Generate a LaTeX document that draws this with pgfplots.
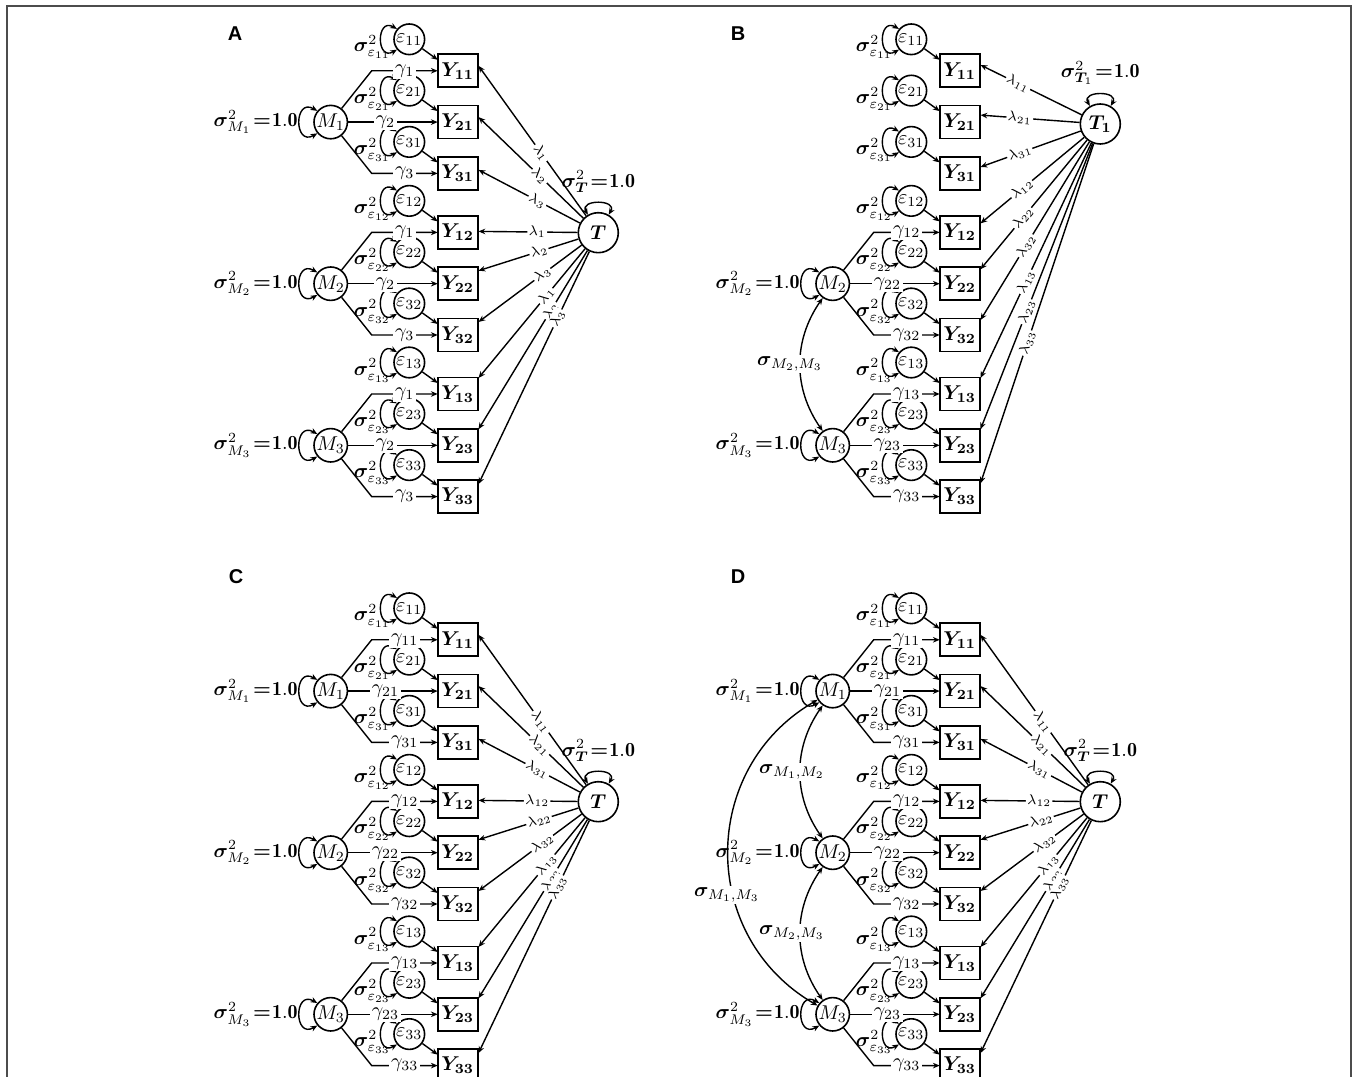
\documentclass[border=0pt]{standalone}
\usepackage{fontspec}
\usepackage{amsmath}
\usepackage{bm}
\usepackage{pgfplots}
\pgfplotsset{compat=1.18}
\usetikzlibrary{arrows.meta}
\newfontfamily\hv{Liberation Sans}

\tikzset{
 yb/.style={draw, line width=0.8pt, minimum width=20pt, minimum height=16.5pt, inner sep=0pt, fill=white},
 ec/.style={draw, circle, line width=0.8pt, minimum size=15.3pt, inner sep=0pt},
 mc/.style={draw, circle, line width=0.8pt, minimum size=16.7pt, inner sep=0pt},
 tc/.style={draw, circle, line width=0.8pt, minimum size=20pt, inner sep=0pt},
 ar/.style={-{Stealth[length=3.4pt,width=2.8pt]}, line width=0.7pt},
 dar/.style={arrows={Stealth[length=3.4pt,width=2.8pt]-Stealth[length=3.4pt,width=2.8pt]}, line width=0.7pt},
 lab/.style={fill=white, inner sep=0.6pt, font=\scriptsize},
 glab/.style={fill=white, inner sep=0.8pt},
}
\newcommand\Eq{\mkern1.5mu{\bm{=}}\mkern1mu\mathbf{1.0}}

\newcommand\Yrow[4]{%
 \node[yb] (Y#4) at ({#1+457.7},{#2+#3}) {$\bm{Y}_{\bm{#4}}$};
 \node[ec] (E#4) at ({#1+409.3},{#2+#3-31.5}) {$\varepsilon_{#4}$};
 \draw[dar] (E#4.140) to[out=150,in=210,looseness=3.0] (E#4.220);
 \node[inner sep=0pt] at ({#1+372.3},{#2+#3-23.5}) {$\bm{\sigma}^2_{\varepsilon_{#4}}$};
 \draw[ar] (E#4) -- ({#1+437.7},{#2+#3-11});
}
\newcommand\Mgroup[7]{%
 \node[mc] (M#4) at ({#1+330.7},{#2+#3+51.3}) {$M_{#4}$};
 \node[anchor=east, inner sep=0pt] at ({#1+298},{#2+#3+51.3}) {$\bm{\sigma}^2_{M_{#4}}\Eq$};
 \draw[dar] (M#4.140) to[out=150,in=210,looseness=3.1] (M#4.220);
 \draw[ar] (M#4) -- ({#1+371.7},{#2+#3}) -- ({#1+437.7},{#2+#3});
 \draw[ar] (M#4) -- ({#1+437.7},{#2+#3+51.3});
 \draw[ar] (M#4) -- ({#1+371.7},{#2+#3+102.6}) -- ({#1+437.7},{#2+#3+102.6});
 \node[glab] at ({#1+404.7},{#2+#3}) {$#5$};
 \node[glab] at ({#1+385.5},{#2+#3+51.3}) {$#6$};
 \node[glab] at ({#1+404.7},{#2+#3+102.6}) {$#7$};
}
\newcommand\Tnode[5]{%
 \node[tc] (T) at ({#1+598.3},{#2+#3}) {$#4$};
 \draw[dar] (T.60) to[out=60,in=120,looseness=2.2] (T.120);
 \node at ({#1+598.3},{#2+#3-51}) {$#5\Eq$};
}
\newcommand\Lam[4]{%
 \draw[ar] (T) -- ([yshift=#2pt]Y#1.east) node[lab,sloped,pos=#3] {$#4$};
}
\newcommand\AllRows[2]{%
 \Yrow{#1}{#2}{70.8}{11}\Yrow{#1}{#2}{122.1}{21}\Yrow{#1}{#2}{173.4}{31}
 \Yrow{#1}{#2}{232.4}{12}\Yrow{#1}{#2}{283.7}{22}\Yrow{#1}{#2}{335.0}{32}
 \Yrow{#1}{#2}{394.0}{13}\Yrow{#1}{#2}{445.3}{23}\Yrow{#1}{#2}{496.6}{33}
}

\begin{document}
\begin{tikzpicture}
\begin{axis}[x=0.5pt, y=0.5pt, y dir=reverse,
  xmin=0, xmax=1356, ymin=0, ymax=1077,
  hide axis, clip=false]
\addplot[draw=black!70, line width=0.8pt, mark=none] coordinates {(7,1090) (7,6) (1351,6) (1351,1090)};
\end{axis}

\begin{scope}[shift={(0pt,538.5pt)}, x=0.5pt, y=-0.5pt]
\node at (235,34) {\hv\bfseries\fontsize{10}{11}\selectfont A};
\node at (738,34) {\hv\bfseries\fontsize{10}{11}\selectfont B};
\node at (236,577) {\hv\bfseries\fontsize{10}{11}\selectfont C};
\node at (738,577) {\hv\bfseries\fontsize{10}{11}\selectfont D};

% ---------------- Panel A
\AllRows{0}{0}
\Mgroup{0}{0}{70.8}{1}{\gamma_1}{\gamma_2}{\gamma_3}
\Mgroup{0}{0}{232.4}{2}{\gamma_1}{\gamma_2}{\gamma_3}
\Mgroup{0}{0}{394.0}{3}{\gamma_1}{\gamma_2}{\gamma_3}
\Tnode{0}{0}{232.7}{\bm{T}}{\bm{\sigma}^2_{\bm{T}}}
\Lam{11}{2.5}{0.42}{\lambda_1}
\Lam{21}{2.5}{0.417}{\lambda_2}
\Lam{31}{1.75}{0.42}{\lambda_3}
\Lam{12}{0.5}{0.407}{\lambda_1}
\Lam{22}{6.5}{0.395}{\lambda_2}
\Lam{32}{6.5}{0.381}{\lambda_3}
\Lam{13}{8}{0.365}{\lambda_1}
\Lam{23}{8}{0.337}{\lambda_2}
\Lam{33}{6.25}{0.288}{\lambda_3}

% ---------------- Panel B
\AllRows{502}{0}
\Mgroup{502}{0}{232.4}{2}{\gamma_{12}}{\gamma_{22}}{\gamma_{32}}
\Mgroup{502}{0}{394.0}{3}{\gamma_{13}}{\gamma_{23}}{\gamma_{33}}
\Tnode{502}{0}{124}{\bm{T}_{\bm{1}}}{\bm{\sigma}^2_{\bm{T}_{1}}}
\Lam{11}{2.9}{0.628}{\lambda_{11}}
\Lam{21}{3.5}{0.604}{\lambda_{21}}
\Lam{31}{3.2}{0.608}{\lambda_{31}}
\Lam{12}{4.5}{0.602}{\lambda_{12}}
\Lam{22}{7.2}{0.603}{\lambda_{22}}
\Lam{32}{7.5}{0.584}{\lambda_{32}}
\Lam{13}{8}{0.591}{\lambda_{13}}
\Lam{23}{8}{0.589}{\lambda_{23}}
\Lam{33}{6.6}{0.587}{\lambda_{33}}
\draw[dar] (M2) to[out=-125,in=125] (M3);
\node[glab] at (790,364) {$\bm{\sigma}_{M_2,M_3}$};

% ---------------- Panel C
\AllRows{0}{569}
\Mgroup{0}{569}{70.8}{1}{\gamma_{11}}{\gamma_{21}}{\gamma_{31}}
\Mgroup{0}{569}{232.4}{2}{\gamma_{12}}{\gamma_{22}}{\gamma_{32}}
\Mgroup{0}{569}{394.0}{3}{\gamma_{13}}{\gamma_{23}}{\gamma_{33}}
\Tnode{0}{569}{232.7}{\bm{T}}{\bm{\sigma}^2_{\bm{T}}}
\Lam{11}{2.5}{0.42}{\lambda_{11}}
\Lam{21}{2.5}{0.417}{\lambda_{21}}
\Lam{31}{1.75}{0.42}{\lambda_{31}}
\Lam{12}{0.5}{0.407}{\lambda_{12}}
\Lam{22}{6.5}{0.395}{\lambda_{22}}
\Lam{32}{6.5}{0.381}{\lambda_{32}}
\Lam{13}{8}{0.365}{\lambda_{13}}
\Lam{23}{8}{0.337}{\lambda_{23}}
\Lam{33}{6.25}{0.288}{\lambda_{33}}

% ---------------- Panel D
\AllRows{502}{569}
\Mgroup{502}{569}{70.8}{1}{\gamma_{11}}{\gamma_{21}}{\gamma_{31}}
\Mgroup{502}{569}{232.4}{2}{\gamma_{12}}{\gamma_{22}}{\gamma_{32}}
\Mgroup{502}{569}{394.0}{3}{\gamma_{13}}{\gamma_{23}}{\gamma_{33}}
\Tnode{502}{569}{232.7}{\bm{T}}{\bm{\sigma}^2_{\bm{T}}}
\Lam{11}{2.5}{0.42}{\lambda_{11}}
\Lam{21}{2.5}{0.417}{\lambda_{21}}
\Lam{31}{1.75}{0.42}{\lambda_{31}}
\Lam{12}{0.5}{0.407}{\lambda_{12}}
\Lam{22}{6.5}{0.395}{\lambda_{22}}
\Lam{32}{6.5}{0.381}{\lambda_{32}}
\Lam{13}{8}{0.365}{\lambda_{13}}
\Lam{23}{8}{0.337}{\lambda_{23}}
\Lam{33}{6.25}{0.288}{\lambda_{33}}
\draw[dar] (M1) to[out=-125,in=125] (M2);
\draw[dar] (M2) to[out=-125,in=125] (M3);
\draw[dar] (M1) to[out=-150,in=150,looseness=1.15] (M3);
\node[glab] at (792,772) {$\bm{\sigma}_{M_1,M_2}$};
\node[glab] at (792,933) {$\bm{\sigma}_{M_2,M_3}$};
\node[glab] at (727,895) {$\bm{\sigma}_{M_1,M_3}$};
\end{scope}

\pgfresetboundingbox
\path[use as bounding box] (current axis.south west) rectangle (current axis.north east);
\end{tikzpicture}
\end{document}
